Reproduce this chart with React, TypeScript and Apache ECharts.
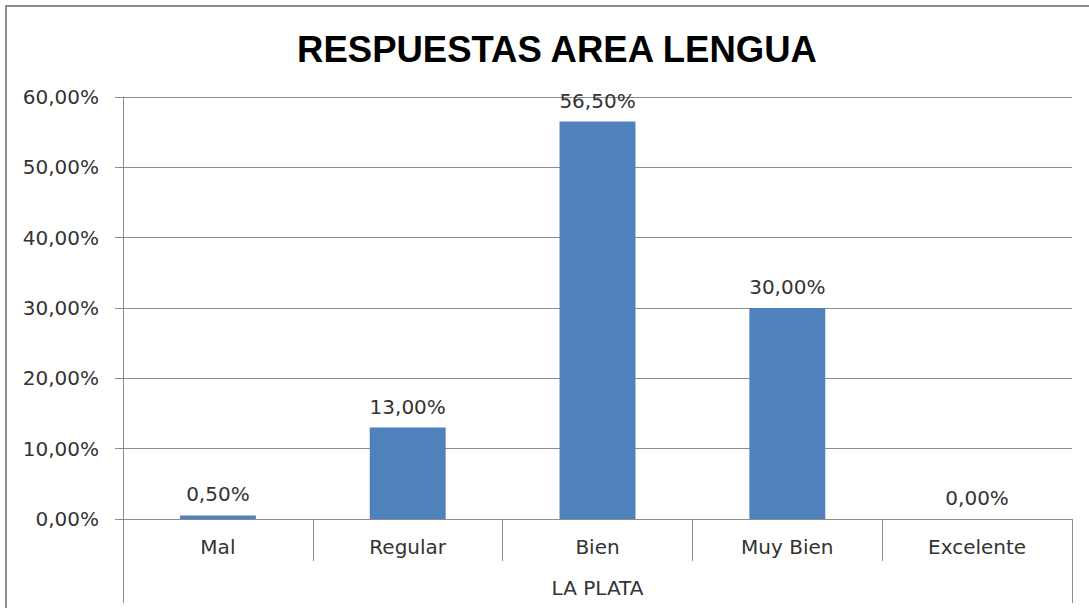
import React, { useEffect, useRef } from "react";
import * as echarts from "echarts";

const TITLE = "RESPUESTAS AREA LENGUA";
const categories = ["Mal", "Regular", "Bien", "Muy Bien", "Excelente"];
const groupLabel = ["LA PLATA"];
const values = [0.5, 13.0, 56.5, 30.0, 0.0];
const yMin = 0;
const yMax = 60;
const yStep = 10;

const fmt = (v: number) => v.toFixed(2).replace(".", ",") + "%";

export default function App() {
  const ref = useRef<HTMLDivElement>(null);
  useEffect(() => {
    if (!ref.current) return;
    const chart = echarts.init(ref.current, undefined, { renderer: "svg" });
    const grey = "#8c8c8c";
    const font = "DejaVu Sans";
    const fs = 20;
    chart.setOption({
      animation: false,
      backgroundColor: "#ffffff",
      title: {
        text: TITLE,
        left: 552,
        top: 26,
        textAlign: "center",
        textStyle: { fontFamily: "Liberation Sans", fontWeight: "bold", fontSize: 36.5, color: "#000" },
      },
      graphic: [
        {
          type: "rect",
          shape: { x: 6, y: 6, width: 1200, height: 700 },
          style: { fill: "none", stroke: grey, lineWidth: 2 },
          silent: true,
        },
      ],
      grid: { left: 123, right: 17, top: 97, bottom: 89, containLabel: false },
      xAxis: [
        {
          type: "category",
          data: categories,
          position: "bottom",
          boundaryGap: true,
          axisLine: { show: true, lineStyle: { color: grey, width: 1 } },
          axisTick: { show: true, length: 42, lineStyle: { color: grey } },
          axisLabel: { margin: 18, fontFamily: font, fontSize: fs, color: "#333" },
          splitLine: { show: false },
        },
        {
          type: "category",
          data: groupLabel,
          position: "bottom",
          boundaryGap: true,
          axisLine: { show: false },
          axisTick: { show: true, length: 84, lineStyle: { color: grey } },
          axisLabel: { margin: 59, fontFamily: font, fontSize: fs, color: "#333" },
        },
      ],
      yAxis: {
        type: "value",
        min: yMin,
        max: yMax,
        interval: yStep,
        axisLine: { show: true, lineStyle: { color: grey } },
        axisTick: { show: true, length: 8, inside: false, lineStyle: { color: grey } },
        axisLabel: {
          margin: 24,
          fontFamily: font,
          fontSize: fs,
          color: "#333",
          formatter: (v: number) => fmt(v),
        },
        splitLine: { show: true, lineStyle: { color: grey, width: 1 } },
      },
      series: [
        {
          type: "bar",
          xAxisIndex: 0,
          data: values,
          barWidth: "40%",
          itemStyle: { color: "#4F81BD" },
          label: {
            show: true,
            position: "top",
            distance: 11,
            fontFamily: font,
            fontSize: fs,
            color: "#333",
            formatter: (p: any) => fmt(p.value),
          },
        },
      ],
    });
    return () => chart.dispose();
  }, []);
  return (
    <div
      ref={ref}
      style={{ position: "fixed", left: 0, top: 0, width: 1089, height: 608 }}
    />
  );
}
